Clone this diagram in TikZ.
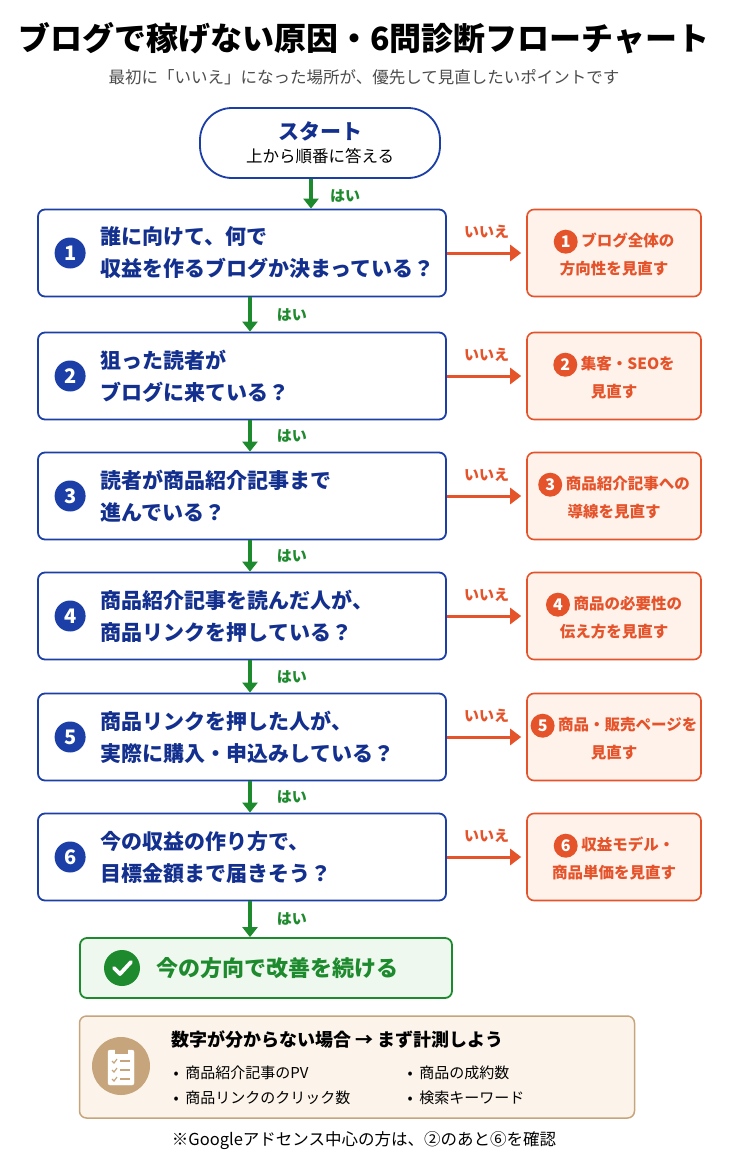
\documentclass[tikz,border=0pt]{standalone}
\usepackage{fontspec}
\setmainfont{Noto Sans CJK JP}
\usepackage{tikz}
\usetikzlibrary{arrows.meta,positioning,calc}
\definecolor{qblue}{HTML}{1B3FA6}
\definecolor{qtext}{HTML}{13308F}
\definecolor{yesgreen}{HTML}{1E8A2E}
\definecolor{nored}{HTML}{E5532B}
\definecolor{nofill}{HTML}{FFF2EB}
\definecolor{okfill}{HTML}{EEF8EE}
\definecolor{notefill}{HTML}{FCF4EA}
\definecolor{notetan}{HTML}{C6A57C}
\tikzset{
    question/.style={draw=qblue, line width=1.8pt, rounded corners=7pt, fill=white, minimum width=408pt, minimum height=87pt},
    answer/.style={draw=nored, line width=1.6pt, rounded corners=7pt, fill=nofill, minimum width=174pt, minimum height=87pt},
    qnum/.style={circle, fill=qblue, text=white, font=\bfseries\fontsize{20}{20}\selectfont, minimum size=31pt, inner sep=0pt},
    anum/.style={circle, fill=nored, text=white, font=\bfseries\fontsize{16}{16}\selectfont, minimum size=24pt, inner sep=0pt},
    qtxt/.style={anchor=west, align=left, text=qtext, font=\bfseries\fontsize{21}{32}\selectfont},
    atxt/.style={align=center, text=nored, font=\bfseries\fontsize{15.5}{28}\selectfont},
    yes/.style={-{Triangle[length=10pt,width=15pt]}, yesgreen, line width=3.2pt},
    no/.style={-{Triangle[length=11pt,width=16pt]}, nored, line width=3pt, shorten >=5pt},
    yeslbl/.style={text=yesgreen, font=\bfseries\fontsize{15}{15}\selectfont},
    nolbl/.style={text=nored, font=\bfseries\fontsize{15}{15}\selectfont}
}
\begin{document}
\begin{tikzpicture}[x=1pt,y=-1pt]
    \useasboundingbox[fill=white] (0,0) rectangle (728,1164);
    \node (title) at (364,38) {\bfseries\fontsize{32}{32}\selectfont ブログで稼げない原因・6問診断フローチャート};
    \node[text=black!70] (sub) at (364,77) {\fontsize{16.5}{16.5}\selectfont 最初に「いいえ」になった場所が、優先して見直したいポイントです};

    \node[draw=qblue, line width=1.8pt, rounded corners=32pt, minimum width=240pt, minimum height=70pt, align=center] (start) at (320,143)
        {\textcolor{qtext}{\bfseries\fontsize{21}{24}\selectfont スタート}\\[6pt]{\fontsize{16.5}{18}\selectfont 上から順番に答える}};

    % questions
    \node[question] (q1) at (242,253) {};
    \node[question] (q2) at (242,376) {};
    \node[question] (q3) at (242,496) {};
    \node[question] (q4) at (242,616) {};
    \node[question] (q5) at (242,737) {};
    \node[question] (q6) at (242,857) {};
    \node[qnum] at ([xshift=33pt]q1.west) {1};
    \node[qnum] at ([xshift=33pt]q2.west) {2};
    \node[qnum] at ([xshift=33pt]q3.west) {3};
    \node[qnum] at ([xshift=33pt]q4.west) {4};
    \node[qnum] at ([xshift=33pt]q5.west) {5};
    \node[qnum] at ([xshift=33pt]q6.west) {6};
    \node[qtxt] at ([xshift=60pt]q1.west) {誰に向けて、何で\\収益を作るブログか決まっている？};
    \node[qtxt] at ([xshift=60pt]q2.west) {狙った読者が\\ブログに来ている？};
    \node[qtxt] at ([xshift=60pt]q3.west) {読者が商品紹介記事まで\\進んでいる？};
    \node[qtxt] at ([xshift=60pt]q4.west) {商品紹介記事を読んだ人が、\\商品リンクを押している？};
    \node[qtxt] at ([xshift=60pt]q5.west) {商品リンクを押した人が、\\実際に購入・申込みしている？};
    \node[qtxt] at ([xshift=60pt]q6.west) {今の収益の作り方で、\\目標金額まで届きそう？};

    % answers
    \node[answer] (n1) at (614,253) {};
    \node[answer] (n2) at (614,376) {};
    \node[answer] (n3) at (614,496) {};
    \node[answer] (n4) at (614,616) {};
    \node[answer] (n5) at (614,737) {};
    \node[answer] (n6) at (614,857) {};
    \node[atxt] at (n1) {\tikz[baseline=-5pt]\node[anum]{1}; ブログ全体の\\方向性を見直す};
    \node[atxt] at (n2) {\tikz[baseline=-5pt]\node[anum]{2}; 集客・SEOを\\見直す};
    \node[atxt] at (n3) {\tikz[baseline=-5pt]\node[anum]{3}; 商品紹介記事への\\導線を見直す};
    \node[atxt] at (n4) {\tikz[baseline=-5pt]\node[anum]{4}; 商品の必要性の\\伝え方を見直す};
    \node[atxt] at (n5) {\tikz[baseline=-5pt]\node[anum]{5}; 商品・販売ページを\\見直す};
    \node[atxt] at (n6) {\tikz[baseline=-5pt]\node[anum]{6}; 収益モデル・\\商品単価を見直す};

    % final
    \node[draw=yesgreen, line width=1.8pt, rounded corners=7pt, fill=okfill, minimum width=372pt, minimum height=60pt] (ok) at (266,968) {};
    \node[circle, fill=yesgreen, minimum size=36pt] (check) at (122,968) {};
    \draw[white, line width=3.8pt, line cap=round, line join=round] ([shift={(-8,0)}]check.center) -- ([shift={(-2,6)}]check.center) -- ([shift={(9,-6)}]check.center);
    \node[anchor=west, text=yesgreen, font=\bfseries\fontsize{22}{22}\selectfont] at (153,968) {今の方向で改善を続ける};

    % yes arrows
    \draw[yes] (start.south -| 311,0) -- (q1.north -| 311,0);
    \node[yeslbl] at (345,196) {はい};
    \draw[yes] (q1.south -| 250,0) -- (q2.north -| 250,0) node[yeslbl, midway, right=22pt] {はい};
    \draw[yes] (q2.south -| 250,0) -- (q3.north -| 250,0) node[yeslbl, midway, right=22pt] {はい};
    \draw[yes] (q3.south -| 250,0) -- (q4.north -| 250,0) node[yeslbl, midway, right=22pt] {はい};
    \draw[yes] (q4.south -| 250,0) -- (q5.north -| 250,0) node[yeslbl, midway, right=22pt] {はい};
    \draw[yes] (q5.south -| 250,0) -- (q6.north -| 250,0) node[yeslbl, midway, right=22pt] {はい};
    \draw[yes] (q6.south -| 250,0) -- (ok.north -| 250,0) node[yeslbl, midway, right=22pt] {はい};

    % no arrows
    \draw[no] (q1) -- (n1) node[nolbl, pos=0.5, above=10pt] {いいえ};
    \draw[no] (q2) -- (n2) node[nolbl, pos=0.5, above=10pt] {いいえ};
    \draw[no] (q3) -- (n3) node[nolbl, pos=0.5, above=10pt] {いいえ};
    \draw[no] (q4) -- (n4) node[nolbl, pos=0.5, above=10pt] {いいえ};
    \draw[no] (q5) -- (n5) node[nolbl, pos=0.5, above=10pt] {いいえ};
    \draw[no] (q6) -- (n6) node[nolbl, pos=0.5, above=10pt] {いいえ};

    % note
    \node[draw=notetan, line width=1.5pt, rounded corners=7pt, fill=notefill, minimum width=555pt, minimum height=102pt] (note) at (357,1067) {};
    \node[circle, fill=notetan, minimum size=58pt] (clip) at (121,1066) {};
    \draw[white, fill=white, rounded corners=2pt] ([shift={(-13,-16)}]clip.center) rectangle ([shift={(13,19)}]clip.center);
    \draw[notetan, fill=notetan] ([shift={(-6,-19)}]clip.center) rectangle ([shift={(6,-13)}]clip.center);
    \foreach \dy in {-5,4,13}{
        \draw[notetan, line width=1.2pt] ([shift={(-9,\dy)}]clip.center) -- ([shift={(-7,\dy+2)}]clip.center) -- ([shift={(-4,\dy-2)}]clip.center);
        \draw[notetan, line width=1.2pt] ([shift={(-1,\dy)}]clip.center) -- ([shift={(9,\dy)}]clip.center);
    }
    \node[anchor=west, font=\bfseries\fontsize{18}{18}\selectfont] at (168,1040) {数字が分からない場合 → まず計測しよう};
    \node[anchor=west, font=\fontsize{15}{15}\selectfont] at (170,1073) {•\ \ 商品紹介記事のPV};
    \node[anchor=west, font=\fontsize{15}{15}\selectfont] at (170,1098) {•\ \ 商品リンクのクリック数};
    \node[anchor=west, font=\fontsize{15}{15}\selectfont] at (404,1073) {•\ \ 商品の成約数};
    \node[anchor=west, font=\fontsize{15}{15}\selectfont] at (404,1098) {•\ \ 検索キーワード};
    \node[font=\fontsize{16.5}{16.5}\selectfont] (foot) at (364,1141) {※Googleアドセンス中心の方は、②のあと⑥を確認};
\end{tikzpicture}
\end{document}
